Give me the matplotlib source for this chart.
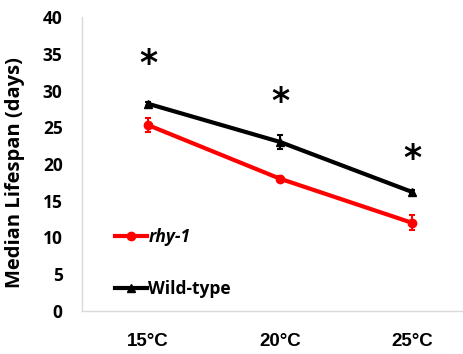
import matplotlib
matplotlib.use("Agg")
import matplotlib.pyplot as plt
from matplotlib.lines import Line2D

categories = ["15°C", "20°C", "25°C"]
rhy1 = [25.3, 18.0, 12.0]
rhy1_err = [1.0, 0.3, 1.0]
wt = [28.2, 23.0, 16.2]
wt_err = [0.3, 1.0, 0.3]
star_y = [33.6, 28.4, 20.7]
yticks = [0, 5, 10, 15, 20, 25, 30, 35, 40]

W, H = 463, 354
fig = plt.figure(figsize=(W/100, H/100), dpi=100)
ax = fig.add_axes([82/W, 43/H, 396/W, 294/H])
x = range(len(categories))

ax.errorbar(x, rhy1, yerr=rhy1_err, color="#ff0000", lw=3, marker="o", ms=6,
            capsize=2, elinewidth=1.5, capthick=1.5, zorder=3)
ax.errorbar(x, wt, yerr=wt_err, color="black", lw=3, marker="^", ms=6,
            capsize=2, elinewidth=1.5, capthick=1.5, zorder=3)

for xi, yi in zip(x, star_y):
    ax.text(xi, yi, "*", ha="center", va="center", fontsize=25,
            fontweight="heavy", family="DejaVu Sans")

ax.set_xlim(-0.5, 2.5)
ax.set_ylim(0, 40)
ax.set_yticks(yticks)
ax.set_yticklabels([str(v) for v in yticks], fontsize=12.5, fontweight="bold", family="Open Sans")
ax.set_xticks(list(x))
ax.set_xticklabels(categories, fontsize=13.5, fontweight="bold", family="Liberation Sans")
ax.tick_params(axis="y", length=0, pad=14)
ax.tick_params(axis="x", length=0, pad=16)
for s in ["top", "right"]:
    ax.spines[s].set_visible(False)
for s in ["left", "bottom"]:
    ax.spines[s].set_color("#d9d9d9")
    ax.spines[s].set_linewidth(1)

ax.set_ylabel("Median Lifespan (days)", fontsize=14.5, fontweight="bold", family="Open Sans")
ax.yaxis.set_label_coords(-0.145, 0.47)

handles = [Line2D([], [], color="#ff0000", lw=3, marker="o", ms=6),
           Line2D([], [], color="black", lw=3, marker="^", ms=6)]
leg = ax.legend(handles, ["rhy-1", "Wild-type"], loc="upper left",
                bbox_to_anchor=(0.045, 0.335), frameon=False,
                handlelength=1.8, handletextpad=0.1, labelspacing=1.95,
                prop={"family": "Open Sans", "weight": "bold", "size": 12.5})
leg.get_texts()[0].set_style("italic")

fig.savefig("out.png", dpi=100)
